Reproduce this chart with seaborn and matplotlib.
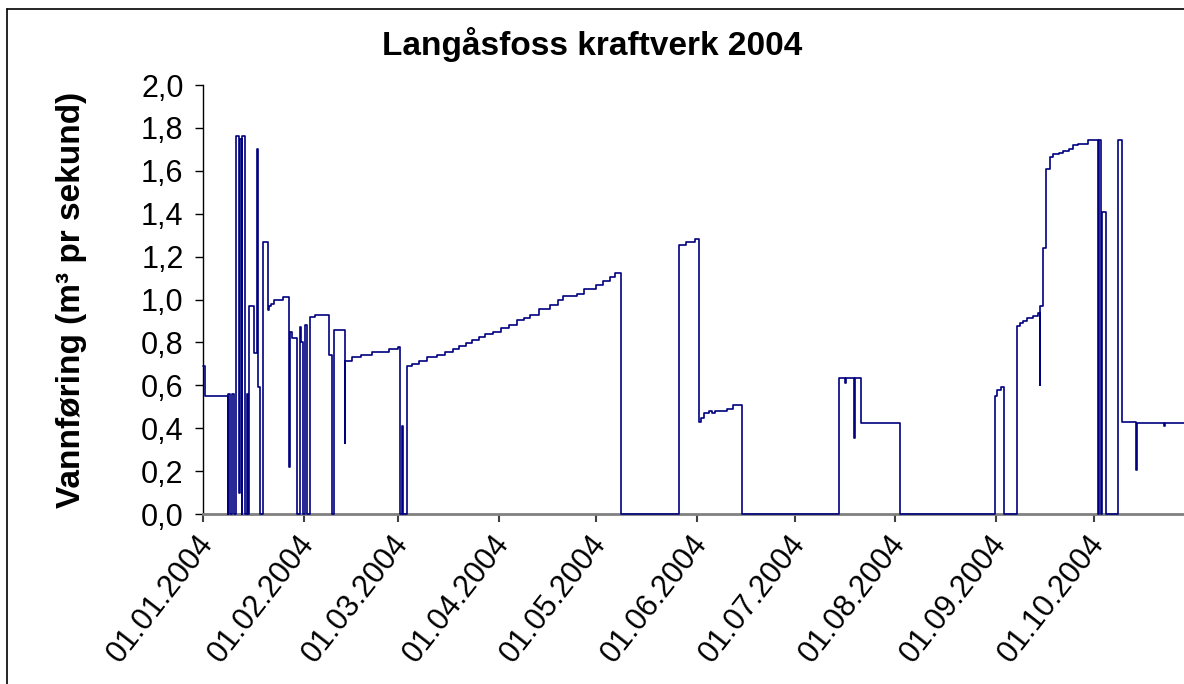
import numpy as np
import pandas as pd
import matplotlib
matplotlib.use("Agg")
import matplotlib.pyplot as plt
import matplotlib.dates as mdates
import matplotlib.transforms as mtransforms
from matplotlib.lines import Line2D
from matplotlib.ticker import FuncFormatter
import seaborn as sns

# Vannføring Langåsfoss 2004, trappetrinn (dag etter 1. januar, m3/s)
dag = [0.0, 0.6, 7.6, 7.8, 8.3, 8.8, 9.5, 10.2, 11.0, 11.3, 11.9, 12.1, 12.9,
       13.4, 13.9, 14.3, 15.8, 16.5, 17.0, 17.5, 18.6, 19.9, 20.4, 21.0, 21.8,
       24.5, 26.6, 26.7, 27.5, 28.8, 29.8, 30.2, 30.9, 31.4, 31.9, 32.9, 34.5,
       38.7, 39.6, 40.3, 43.7, 43.8, 45.7, 48.5, 51.9, 57.3, 60.0, 60.6, 61.3,
       61.6, 62.9, 64.2, 66.6, 68.8, 71.9, 74.5, 76.8, 78.7, 81.0, 82.7, 85.0,
       86.8, 89.3, 91.6, 94.0, 96.5, 98.8, 100.6, 103.5, 106.8, 109.3, 110.9,
       115.0, 117.2, 120.9, 123.2, 125.2, 126.8, 128.5, 146.5, 148.5, 151.4,
       152.7, 153.2, 154.0, 155.6, 156.5, 157.5, 161.3, 163.2, 165.7, 195.7,
       197.5, 197.7, 200.4, 200.6, 202.5, 214.5, 243.7, 244.4, 245.4, 246.3,
       250.4, 251.4, 252.4, 253.4, 255.3, 256.9, 257.4, 257.6, 258.4, 259.3,
       260.6, 261.6, 263.2, 264.7, 266.5, 267.5, 269.3, 272.2, 275.2, 275.7,
       276.3, 276.7, 277.7, 281.6, 282.6, 287.0, 287.2, 295.7, 295.9, 301.8]
vannforing = [0.69, 0.55, 0.0, 0.56, 0.0, 0.56, 0.0, 1.76, 0.10, 1.75, 0.0, 1.76, 0.0,
              0.56, 0.0, 0.97, 0.75, 1.70, 0.59, 0.0, 1.27, 0.95, 0.97, 0.98, 1.00,
              1.01, 0.22, 0.85, 0.82, 0.0, 0.87, 0.80, 0.0, 0.88, 0.0, 0.92, 0.93,
              0.74, 0.0, 0.86, 0.33, 0.715, 0.73, 0.74, 0.755, 0.77, 0.78, 0.0, 0.41,
              0.0, 0.69, 0.70, 0.715, 0.73, 0.74, 0.756, 0.768, 0.782, 0.796, 0.81, 0.824,
              0.837, 0.85, 0.865, 0.882, 0.905, 0.916, 0.93, 0.957, 0.975, 0.998, 1.014,
              1.026, 1.05, 1.068, 1.084, 1.107, 1.123, 0.0, 1.255, 1.266, 1.283,
              0.43, 0.446, 0.47, 0.482, 0.473, 0.482, 0.488, 0.509, 0.0, 0.633,
              0.61, 0.633, 0.353, 0.633, 0.423, 0.0, 0.55, 0.579, 0.594, 0.0,
              0.877, 0.89, 0.902, 0.916, 0.924, 0.936, 0.60, 0.97, 1.24, 1.61,
              1.664, 1.68, 1.683, 1.69, 1.70, 1.718, 1.726, 1.745, 0.0, 1.745,
              0.0, 1.406, 0.0, 1.745, 0.428, 0.205, 0.423, 0.41, 0.423, 0.423]

y_ticks = [0.0, 0.2, 0.4, 0.6, 0.8, 1.0, 1.2, 1.4, 1.6, 1.8, 2.0]

start = pd.Timestamp("2004-01-01")
df = pd.DataFrame({
    "dato": start + pd.to_timedelta(dag, unit="D"),
    "vannforing": vannforing,
})

sns.set_style("white")
plt.rcParams["font.family"] = ["Liberation Sans", "DejaVu Sans"]
plt.rcParams["text.color"] = "black"
plt.rcParams["axes.labelcolor"] = "black"
plt.rcParams["xtick.color"] = "black"
plt.rcParams["ytick.color"] = "black"

fig = plt.figure(figsize=(11.84, 6.84), dpi=100)
ax = fig.add_axes([203 / 1184, 1 - 514 / 684, 981 / 1184, 429 / 684])

sns.lineplot(data=df, x="dato", y="vannforing", ax=ax, color="#000080",
             linewidth=1.2, drawstyle="steps-post", estimator=None, sort=False,
             zorder=3, clip_on=False)

ax.set_xlim(start, start + pd.Timedelta(days=301.8))
ax.set_ylim(0, 2.0)
ax.set_yticks(y_ticks)
ax.yaxis.set_major_formatter(FuncFormatter(lambda v, p: f"{v:.1f}".replace(".", ",")))
ax.xaxis.set_major_locator(mdates.MonthLocator())
ax.xaxis.set_major_formatter(mdates.DateFormatter("%d.%m.%Y"))

ax.tick_params(axis="y", direction="out", length=6, width=1, color="black",
               labelsize=22, pad=8, left=True)
ax.tick_params(axis="x", direction="out", length=6, width=1.5, color="#404040",
               labelsize=22, pad=5, bottom=True)

for side in ["top", "right"]:
    ax.spines[side].set_visible(False)
ax.spines["left"].set_color("black")
ax.spines["left"].set_linewidth(1)
ax.spines["bottom"].set_color("#808080")
ax.spines["bottom"].set_linewidth(2)

ax.set_xlabel("")
ax.set_ylabel("Vannføring (m³ pr sekund)", fontsize=24, fontweight="bold")
ax.yaxis.set_label_coords(-0.118, 0.5)

fig.text(592 / 1184, 1 - 45 / 684, "Langåsfoss kraftverk 2004", ha="center",
         va="center", fontsize=24, fontweight="bold", color="black")

# ramme rundt diagrammet
fig.add_artist(Line2D([7 / 1184, 7 / 1184], [0, 1 - 9 / 684], color="black", lw=1.2))
fig.add_artist(Line2D([7 / 1184, 1], [1 - 9 / 684, 1 - 9 / 684], color="black", lw=1.2))

# datoetikettene: skrå, og litt mot venstre som i Excel-originalen
fig.canvas.draw()
shift = mtransforms.ScaledTranslation(-7 / 100, 0, fig.dpi_scale_trans)
for tick in ax.xaxis.get_major_ticks():
    lab = tick.label1
    lab.set_rotation(52)
    lab.set_ha("right")
    lab.set_va("top")
    lab.set_rotation_mode("anchor")
    lab.set_transform(lab.get_transform() + shift)

fig.savefig("out.png", dpi=100)
